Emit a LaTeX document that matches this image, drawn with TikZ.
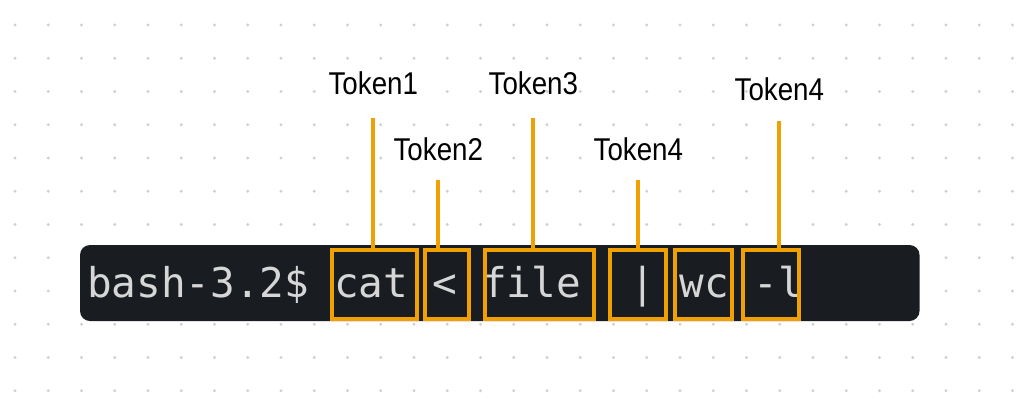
\documentclass[tikz,border=0pt]{standalone}
\usepackage{fontspec}
\newfontfamily\lblfont{Liberation Sans}
\newfontfamily\termfont{DejaVu Sans Mono}
\definecolor{tokorange}{HTML}{F0A000}
\definecolor{termbg}{HTML}{191C21}
\definecolor{termtext}{HTML}{D6D6D6}
\definecolor{dotc}{HTML}{D0D0D0}
\tikzset{
  tokbox/.style={draw=tokorange, line width=4pt, rectangle, inner sep=0pt, outer sep=0pt, minimum height=69pt},
  tokline/.style={draw=tokorange, line width=4pt},
  toklabel/.style={anchor=base, inner sep=0pt, font=\lblfont\fontsize{31.5}{31.5}\selectfont},
}
\newcommand{\lbl}[1]{\scalebox{0.88}[1]{#1}}
\begin{document}
\begin{tikzpicture}[x=1pt,y=-1pt]
\useasboundingbox (0,0) rectangle (1022,416);
\fill[white] (0,0) rectangle (1022,416);
% dot grid
\foreach \i in {0,...,30}
  \foreach \j in {0,...,11}
    \fill[dotc] (15+33.25*\i, 25+33.25*\j) circle (1.7pt);
% terminal
\node[fill=termbg, rounded corners=10pt, minimum width=839.5pt, minimum height=76pt, inner sep=0pt, outer sep=0pt] (term) at (499.75,283) {};
\node[anchor=base west, inner sep=0pt, text=termtext, font=\termfont\fontsize{41}{41}\selectfont] (cmd) at (87,297) {bash-3.2\$ cat < file~~| wc -l};
% token boxes
\node[tokbox, minimum width=85pt] (b1) at (374.5,284) {};
\node[tokbox, minimum width=43.5pt] (b2) at (446.75,284) {};
\node[tokbox, minimum width=109pt] (b3) at (539.5,284) {};
\node[tokbox, minimum width=56pt] (b4) at (638,284) {};
\node[tokbox, minimum width=57pt] (b5) at (703.5,284) {};
\node[tokbox, minimum width=56.5pt] (b6) at (770.75,284) {};
% labels
\node[toklabel] (l1) at (373.3,94.3) {\lbl{Token1}};
\node[toklabel] (l2) at (438.3,160) {\lbl{Token2}};
\node[toklabel] (l3) at (533.3,94.3) {\lbl{Token3}};
\node[toklabel] (l4) at (638.3,160) {\lbl{Token4}};
\node[toklabel] (l5) at (779.3,100) {\lbl{Token4}};
% connector tops
\coordinate (c1) at (373.3,118);
\coordinate (c2) at (438.3,180);
\coordinate (c3) at (533.3,118);
\coordinate (c4) at (638.3,180);
\coordinate (c5) at (779.3,121);
\draw[tokline] (c1) -- (c1 |- b1.north);
\draw[tokline] (c2) -- (c2 |- b2.north);
\draw[tokline] (c3) -- (c3 |- b3.north);
\draw[tokline] (c4) -- (c4 |- b4.north);
\draw[tokline] (c5) -- ([yshift=-2pt]c5 |- b6.north);
\end{tikzpicture}
\end{document}
